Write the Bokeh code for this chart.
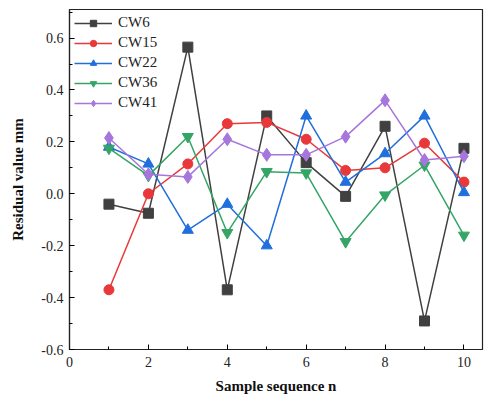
from bokeh.plotting import figure
from bokeh.embed import file_html
from bokeh.resources import INLINE
from bokeh.models import Range1d, FixedTicker, Legend, LegendItem, CustomJSTickFormatter

x = [1, 2, 3, 4, 5, 6, 7, 8, 9, 10]
cw6 = [-0.04, -0.075, 0.565, -0.37, 0.30, 0.12, -0.01, 0.26, -0.49, 0.175]
cw15 = [-0.37, 0.0, 0.115, 0.27, 0.275, 0.21, 0.09, 0.10, 0.195, 0.045]
cw22 = [0.18, 0.115, -0.14, -0.04, -0.2, 0.30, 0.045, 0.155, 0.30, 0.005]
cw36 = [0.175, 0.07, 0.22, -0.15, 0.085, 0.08, -0.185, -0.005, 0.11, -0.16]
cw41 = [0.215, 0.075, 0.065, 0.21, 0.15, 0.15, 0.22, 0.36, 0.13, 0.145]
names = ["CW6", "CW15", "CW22", "CW36", "CW41"]
xticks = [0, 2, 4, 6, 8, 10]
yticks = [-0.6, -0.4, -0.2, 0.0, 0.2, 0.4, 0.6]

FONT = "Liberation Serif"
p = figure(width=488, height=397, output_backend="svg", toolbar_location=None,
           x_range=Range1d(0, 10.47), y_range=Range1d(-0.6, 0.71),
           min_border_left=69, min_border_right=6, min_border_top=9, min_border_bottom=48)
p.grid.visible = False
p.outline_line_color = "#222222"
p.outline_line_width = 1.2

for ax in (p.xaxis[0], p.yaxis[0]):
    ax.major_tick_in = 5
    ax.major_tick_out = 0
    ax.minor_tick_in = 3
    ax.minor_tick_out = 0
    ax.axis_line_color = "#222222"
    ax.axis_line_width = 1.2
    ax.major_label_text_font = FONT
    ax.major_label_text_font_size = "14px"
    ax.major_label_text_color = "#222222"
    ax.axis_label_text_font = FONT
    ax.axis_label_text_font_size = "15px"
    ax.axis_label_text_font_style = "bold"
    ax.axis_label_text_color = "#111111"

p.xaxis.ticker = FixedTicker(ticks=xticks, minor_ticks=[1, 3, 5, 7, 9])
p.yaxis.ticker = FixedTicker(ticks=yticks, minor_ticks=[-0.5, -0.3, -0.1, 0.1, 0.3, 0.5, 0.7])
p.yaxis.formatter = CustomJSTickFormatter(code="return tick.toFixed(1);")
p.xaxis.axis_label = "Sample sequence n"
p.yaxis.axis_label = "Residual value mm"
p.xaxis.major_label_standoff = 7
p.yaxis.major_label_standoff = 6
p.xaxis.axis_label_standoff = 8
p.yaxis.axis_label_standoff = 12

series = [cw6, cw15, cw22, cw36, cw41]
colors = ["#404040", "#e8383a", "#1f6fdc", "#35a566", "#a676dc"]
markers = ["square", "circle", "triangle", "inverted_triangle", "diamond"]
sizes = [10, 10, 11, 11, 13]
items = []
for name, ys, c, m, s in zip(names, series, colors, markers, sizes):
    l = p.line(x, ys, line_color=c, line_width=1.5)
    g = p.scatter(x, ys, marker=m, size=s, fill_color=c, line_color=c)
    items.append(LegendItem(label=name, renderers=[l, g]))

legend = Legend(items=items, location="top_left", border_line_color=None,
                background_fill_alpha=0, label_text_font=FONT,
                label_text_font_size="15px", label_text_color="#222222",
                glyph_width=38, glyph_height=16, spacing=3, padding=4,
                margin=5, label_standoff=6, label_height=16)
legend.margin = 5
p.add_layout(legend)

open("out.html", "w").write(file_html(p, INLINE))
